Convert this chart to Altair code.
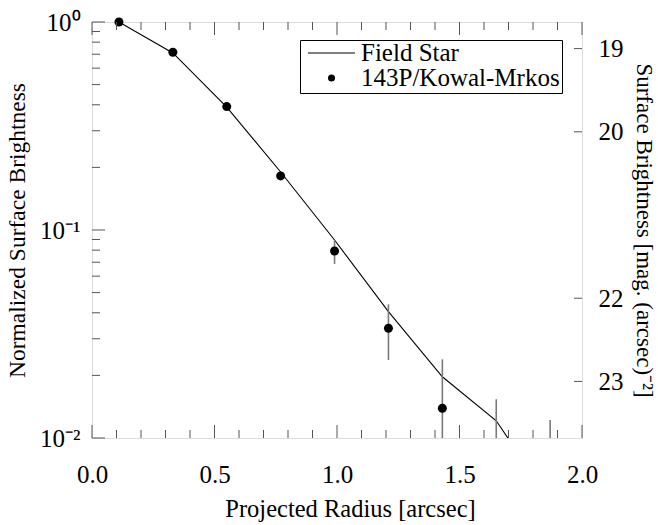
import altair as alt
import pandas as pd

# ---- data ----
radius = [0.11, 0.33, 0.55, 0.77, 0.99, 1.21, 1.43, 1.65, 1.87]
field_star = [1.0, 0.71, 0.39, 0.19, 0.0895, 0.0405, 0.0197, 0.0121, 0.0050]
comet = [1.0, 0.715, 0.392, 0.182, 0.0793, 0.0337, 0.0139, None, None]
comet_hi = [1.0, 0.72, 0.40, 0.186, 0.0895, 0.0439, 0.0239, 0.01535, 0.0122]
comet_lo = [1.0, 0.71, 0.385, 0.178, 0.0687, 0.0237, 0.0050, 0.0050, 0.0050]

series_names = ["Field Star", "143P/Kowal-Mrkos"]

x_major = [0.0, 0.5, 1.0, 1.5, 2.0]
x_minor = [0.1, 0.2, 0.3, 0.4, 0.6, 0.7, 0.8, 0.9, 1.1, 1.2, 1.3, 1.4, 1.6, 1.7, 1.8, 1.9]
y_major = [1.0, 0.1, 0.01]
y_minor = [0.02, 0.03, 0.04, 0.05, 0.06, 0.07, 0.08, 0.09,
           0.2, 0.3, 0.4, 0.5, 0.6, 0.7, 0.8, 0.9]
mag_ticks = [19, 20, 22, 23]
MAG0 = 18.68  # magnitude of normalized brightness 1.0

W, H = 490, 416
FONT = "Liberation Serif"
FRAME = "#555555"
TICKFS = 25

star_df = pd.DataFrame({"r": radius, "v": field_star})
comet_df = pd.DataFrame({"r": radius, "v": comet, "hi": comet_hi, "lo": comet_lo,
                         "series": [series_names[1]] * len(radius)})
xmaj_df = pd.DataFrame({"r": x_major})
xmin_df = pd.DataFrame({"r": x_minor})
ymaj_df = pd.DataFrame({"t": y_major})
ymin_df = pd.DataFrame({"t": y_minor})
mag_df = pd.DataFrame({"m": mag_ticks})

x_scale = alt.Scale(domain=[0, 2], nice=False, zero=False)
y_scale = alt.Scale(type="log", domain=[0.01, 1], nice=False)

x_axis = alt.Axis(values=x_major, format=".1f", ticks=False, tickSize=0, domain=False, grid=False,
                  orient="bottom", labelFlush=False,
                  labelPadding=24, labelFontSize=TICKFS, labelFont=FONT, labelColor="black",
                  title="Projected Radius [arcsec]", titleFontSize=24.5, titleFont=FONT,
                  titleFontWeight="normal", titleColor="black", titlePadding=10, titleX=258)
sup = ("'10' + replace(replace(replace(replace(toString(round(log(datum.value)/LN10)),"
       " '-', '\u207b'), '0', '\u2070'), '1', '\u00b9'), '2', '\u00b2')")
y_axis = alt.Axis(values=y_major, labelExpr=sup, ticks=False, tickSize=0, domain=False, grid=False,
                  orient="left", labelFlush=False,
                  labelPadding=12, labelFontSize=TICKFS, labelFont=FONT, labelColor="black",
                  title="Normalized Surface Brightness", titleFontSize=23.5, titleFont=FONT,
                  titleFontWeight="normal", titleColor="black", titlePadding=10)

# every layer carries the identical x axis so the shared axis merges cleanly
X = alt.X("r:Q", scale=x_scale, axis=x_axis, title="Projected Radius [arcsec]")
Y = alt.Y("v:Q", scale=y_scale, axis=None)

line = alt.Chart(star_df).mark_line(color="black", strokeWidth=1.1, clip=True).encode(
    x=X,
    y=alt.Y("v:Q", scale=y_scale, axis=y_axis),
)

err = alt.Chart(comet_df).mark_rule(color="#7a7a7a", strokeWidth=1.6, clip=True).encode(
    x=X,
    y=alt.Y("lo:Q", scale=y_scale, axis=None),
    y2="hi:Q",
)

line_symbol = "M-6.7,-0.15H6.7V0.15H-6.7Z"
pts = alt.Chart(comet_df).transform_filter("isValid(datum.v)").mark_point(
    filled=True, size=81, color="black", opacity=1
).encode(
    x=X,
    y=Y,
    shape=alt.Shape(
        "series:N",
        scale=alt.Scale(domain=series_names, range=[line_symbol, "circle"]),
        legend=alt.Legend(
            title=None, orient="none", legendX=208, legendY=18,
            strokeColor="black", fillColor="white", padding=2,
            labelFont=FONT, labelFontSize=25, labelColor="black", labelLimit=400,
            symbolSize=49, symbolOffset=17, labelOffset=17, rowPadding=0, clipHeight=22,
            symbolFillColor="black", symbolOpacity=1,
        ),
    ),
)


def xticks(df, y0, y1):
    return alt.Chart(df).mark_rule(color=FRAME, strokeWidth=1).encode(
        x=X, y=alt.value(y0), y2=alt.value(y1))


def yticks(df, x0, x1):
    return alt.Chart(df).mark_rule(color=FRAME, strokeWidth=1).encode(
        y=alt.Y("t:Q", scale=y_scale, axis=None), x=alt.value(x0), x2=alt.value(x1))


ticks = [
    xticks(xmin_df, H, H - 8), xticks(xmaj_df, H, H - 13),
    xticks(xmin_df, 0, 8), xticks(xmaj_df, 0, 13),
    yticks(ymin_df, 0, 8), yticks(ymaj_df, 0, 13),
]

right = alt.Chart(mag_df).transform_calculate(
    b=f"pow(10, -0.4 * (datum.m - {MAG0}))"
).mark_rule(color=FRAME, strokeWidth=1).encode(
    x=alt.value(W), x2=alt.value(W - 8),
    y=alt.Y("b:Q", scale=y_scale, axis=alt.Axis(
        orient="right", values=[10 ** (-0.4 * (m - MAG0)) for m in mag_ticks],
        labelExpr=f"format({MAG0} - 2.5*log(datum.value)/LN10, '.0f')",
        ticks=False, tickSize=0, domain=False, grid=False, labelFlush=False,
        labelPadding=16, labelFontSize=TICKFS, labelFont=FONT, labelColor="black",
        title="Surface Brightness [mag. (arcsec)\u207b\u00b2]", titleFontSize=23, titleFont=FONT,
        titleFontWeight="normal", titleColor="black", titlePadding=8)),
)

chart = alt.layer(line, err, pts, *ticks, right).resolve_axis(y="independent").properties(
    width=W, height=H,
    autosize=alt.AutoSizeParams(type="none"),
    padding={"left": 92, "top": 22, "right": 76, "bottom": 87},
).configure_view(stroke=FRAME, strokeWidth=1.5).configure(font=FONT, background="white")

chart.save("out.html", embed_options={"renderer": "svg", "actions": False})
